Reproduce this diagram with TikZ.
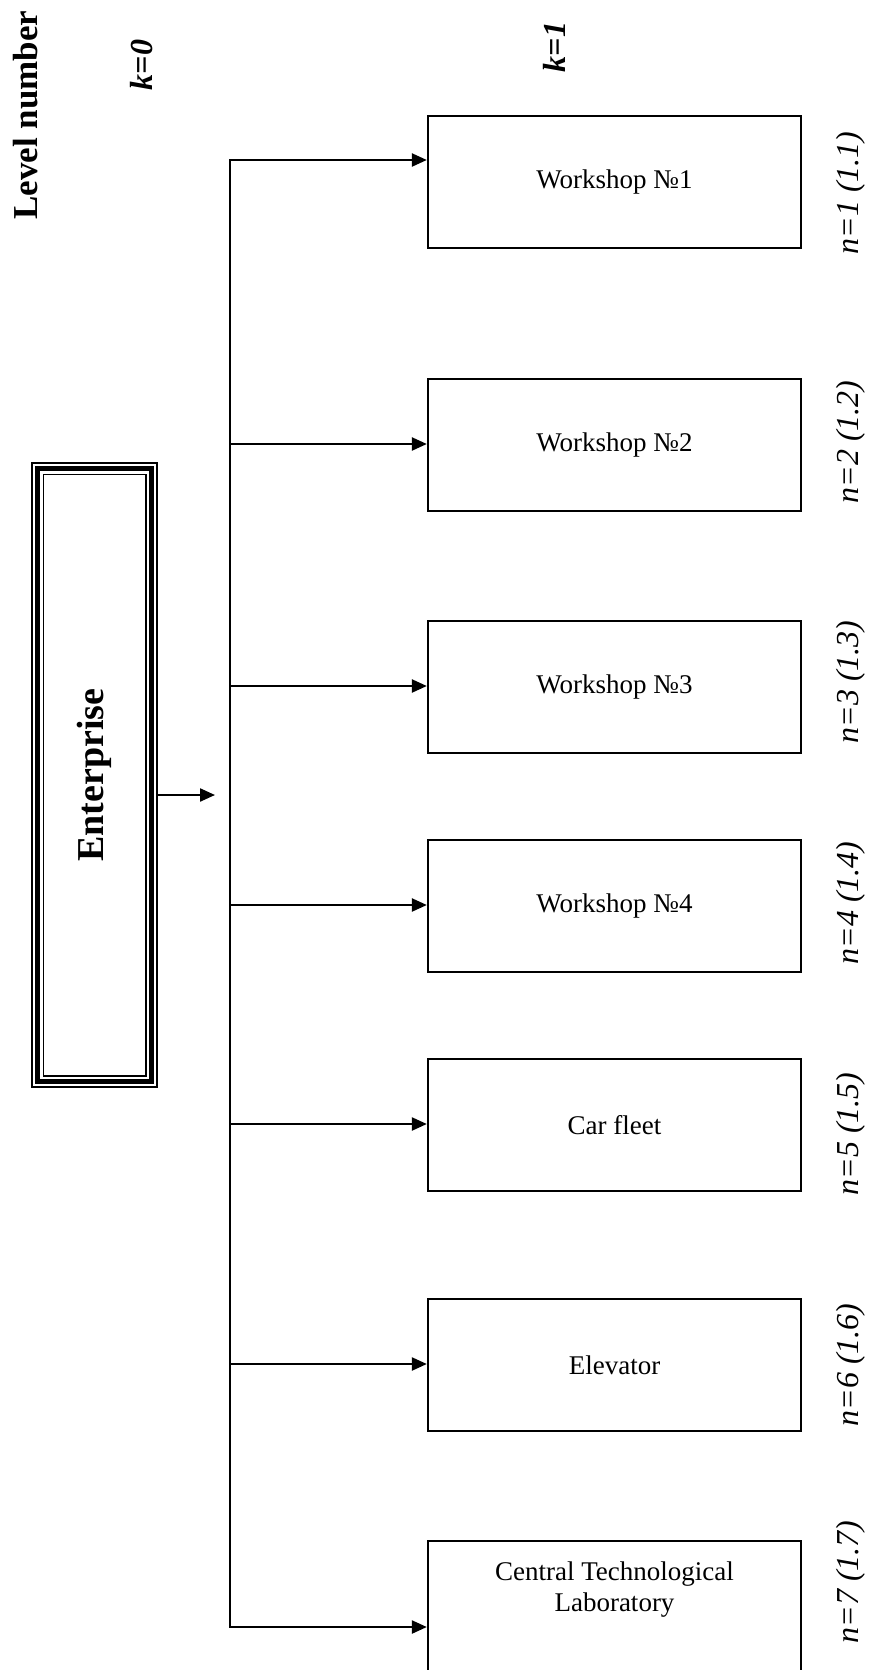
\documentclass[tikz,border=0pt]{standalone}
\usepackage{graphicx}
\usepackage{fontspec}
\setmainfont{Liberation Serif}
\usetikzlibrary{arrows.meta, positioning, calc}

\begin{document}
\begin{tikzpicture}[x=1pt, y=-1pt,
    unit/.style={draw, line width=2.3pt, minimum width=373pt, minimum height=132pt,
      inner sep=0pt, font=\fontsize{27}{31}\selectfont, align=center},
    lvl/.style={rotate=90, font=\fontsize{32}{36}\selectfont\bfseries\itshape},
    nlab/.style={rotate=90, font=\fontsize{32}{36}\selectfont\itshape},
    feed/.style={line width=2.3pt, -{Triangle[length=15pt, width=13pt]}}
  ]
  \path[use as bounding box, fill=white] (0,0) rectangle (869,1670);

  % level numbers
  \node[rotate=90, font=\fontsize{35}{40}\selectfont\bfseries] (levnum) at (26,115) {Level number};
  \node[lvl] (k0) at (142,65) {k=0};
  \node[lvl] (k1) at (554,47) {k=1};

  % enterprise with triple frame
  \node[draw, line width=1.5pt, minimum width=125pt, minimum height=624pt, inner sep=0pt,
    font=\fontsize{38}{44}\selectfont\bfseries] (ent) at (94.5,775) {\rotatebox{90}{Enterprise}};
  \draw[line width=5pt] ($(ent.north west)+(6,6)$) rectangle ($(ent.south east)+(-6,-6)$);
  \draw[line width=1.5pt] ($(ent.north west)+(12,12)$) rectangle ($(ent.south east)+(-12,-12)$);
  \coordinate (busin) at (215,795);
  \draw[feed] ([yshift=-20pt]ent.east) -- (busin);

  % subdivisions of level 1
  \foreach \i/\top/\fy/\txt in {1/115/160/Workshop №1, 2/378/444/Workshop №2,
      3/620/686/Workshop №3, 4/839/905/Workshop №4, 5/1058/1124/Car fleet,
      6/1298/1364/Elevator}{
    \node[unit, anchor=north] (u\i) at (614.5,\top) {\txt};
    \coordinate (b\i) at (230,\fy);
    \draw[feed] (b\i) -- (b\i -| u\i.west);
  }
  \node[unit, anchor=north, minimum height=170pt,
    label={[font=\fontsize{27}{31}\selectfont, align=center, anchor=north, yshift=-18pt]north:{Central Technological\\Laboratory}}]
    (u7) at (614.5,1540) {};
  \coordinate (b7) at (230,1627);
  \draw[feed] (b7) -- (b7 -| u7.west);
  \draw[line width=2.3pt, line cap=rect] (b1) -- (b7);

  % numbering of units
  \foreach \i/\y in {1/193, 2/442, 3/682, 4/903, 5/1134, 6/1365, 7/1582}
    \node[nlab] (n\i) at (851,\y) {n=\i{} (1.\i)};
\end{tikzpicture}
\end{document}
